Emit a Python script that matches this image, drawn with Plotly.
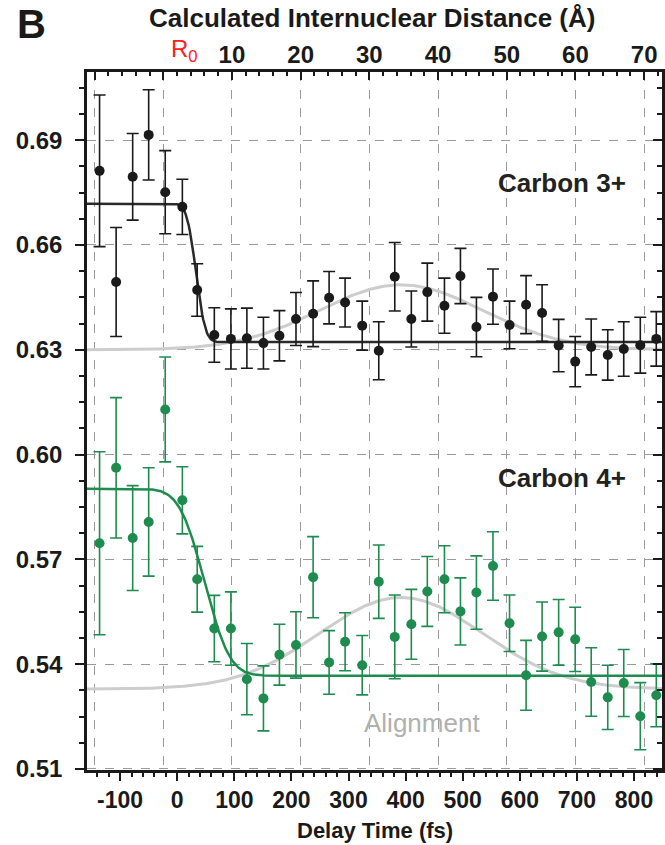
import math
import numpy as np
import plotly.graph_objects as go

# Pump-probe delay (fs)
delay_fs = [-136, -107, -78, -50, -21, 9, 35, 65, 94, 122, 151, 179, 208, 238,
            266, 294, 324, 353, 381, 410, 438, 468, 496, 524, 553, 582, 611, 639,
            668, 697, 725, 754, 782, 811, 839]

# Carbon 3+ yield and error
c3_value = [0.6812, 0.6494, 0.6795, 0.6915, 0.6751, 0.6709, 0.6471, 0.6342, 0.6331,
            0.6333, 0.6319, 0.6340, 0.6388, 0.6403, 0.6449, 0.6435, 0.6369, 0.6297,
            0.6509, 0.6388, 0.6465, 0.6426, 0.6511, 0.6365, 0.6452, 0.6371, 0.6429,
            0.6405, 0.6312, 0.6266, 0.6308, 0.6285, 0.6302, 0.6313, 0.6331]
c3_error = [0.0217, 0.0156, 0.0124, 0.0129, 0.0119, 0.0079, 0.0075, 0.0078, 0.0086,
            0.0086, 0.0074, 0.0072, 0.0076, 0.0094, 0.0075, 0.0070, 0.0070, 0.0083,
            0.0098, 0.0080, 0.0083, 0.0079, 0.0079, 0.0085, 0.0079, 0.0068, 0.0083,
            0.0081, 0.0075, 0.0072, 0.0080, 0.0072, 0.0078, 0.0080, 0.0078]

# Carbon 4+ yield and error
c4_value = [0.5746, 0.5962, 0.5761, 0.5807, 0.6129, 0.5869, 0.5643, 0.5502, 0.5502,
            0.5357, 0.5302, 0.5427, 0.5455, 0.5649, 0.5405, 0.5464, 0.5397, 0.5636,
            0.5478, 0.5514, 0.5608, 0.5643, 0.5551, 0.5605, 0.5681, 0.5517, 0.5368,
            0.5479, 0.5491, 0.5471, 0.5349, 0.5305, 0.5346, 0.5251, 0.5311]
c4_error = [0.0262, 0.0201, 0.0150, 0.0155, 0.0150, 0.0096, 0.0094, 0.0095, 0.0105,
            0.0102, 0.0093, 0.0087, 0.0095, 0.0116, 0.0091, 0.0083, 0.0085, 0.0105,
            0.0120, 0.0100, 0.0100, 0.0096, 0.0096, 0.0105, 0.0098, 0.0081, 0.0100,
            0.0099, 0.0094, 0.0092, 0.0098, 0.0092, 0.0096, 0.0096, 0.0090]

# Error-function step fits: (high, low, centre fs, width fs)
c3_fit = (0.6718, 0.6322, 33.0, 18.0)
c4_fit = (0.5902, 0.5367, 48.0, 49.0)
# Alignment revival (baseline, amplitude, centre fs, sigma fs)
c3_align = (0.6300, 0.0186, 392.0, 143.0)
c4_align = (0.5329, 0.0262, 392.0, 143.0)

# Axis ticks
delay_ticks = [-100, 0, 100, 200, 300, 400, 500, 600, 700, 800]
delay_ticktext = ["-100", "0", "100", "200", "300", "400", "500", "600", "700", "800"]
dist_grid = [-10, 0, 10, 20, 30, 40, 50, 60, 70]
dist_ticks = [10, 20, 30, 40, 50, 60, 70]
dist_ticktext = ["10", "20", "30", "40", "50", "60", "70"]
yield_ticks = [0.51, 0.54, 0.57, 0.60, 0.63, 0.66, 0.69]

X_RANGE = [-158, 849]
DIST_RANGE = [-11.1, 72.6]
Y_RANGE = [0.5097, 0.7095]

W, H = 665, 845
ML, MR, MT, MB = 87, 3, 72, 75
PW, PH = W - ML - MR, H - MT - MB

BLACK = "#1a1a1a"
GREEN = "#1d8c4e"
GREY_LINE = "#cdcdcd"
FONT = "Liberation Sans, Arial, sans-serif"

t = np.linspace(X_RANGE[0], X_RANGE[1], 600)
erf = np.vectorize(math.erf)


def step(p):
    hi, lo, t0, w = p
    return lo + (hi - lo) * 0.5 * (1 - erf((t - t0) / w))


def bump(p):
    base, amp, t0, s = p
    return base + amp * np.exp(-((t - t0) ** 2) / (2 * s ** 2))


fig = go.Figure()

for p in (c3_align, c4_align):
    fig.add_trace(go.Scatter(x=t, y=bump(p), mode="lines",
                             line=dict(color=GREY_LINE, width=3), hoverinfo="skip"))

fig.add_trace(go.Scatter(x=t, y=step(c3_fit), mode="lines",
                         line=dict(color="#2a2a2a", width=2.5)))
fig.add_trace(go.Scatter(x=t, y=step(c4_fit), mode="lines",
                         line=dict(color=GREEN, width=2.5)))

for vals, errs, col in ((c3_value, c3_error, BLACK), (c4_value, c4_error, GREEN)):
    fig.add_trace(go.Scatter(
        x=delay_fs, y=vals, mode="markers",
        marker=dict(color=col, size=10),
        error_y=dict(type="data", array=errs, visible=True, color=col,
                     thickness=1.6, width=6),
    ))

# invisible anchors so the distance axes and right-hand mirror axis are drawn
for ax in ("x2", "x3"):
    fig.add_trace(go.Scatter(x=[0], y=[0.6], xaxis=ax, mode="markers",
                             marker=dict(opacity=0), hoverinfo="skip"))
fig.add_trace(go.Scatter(x=[0], y=[0.6], yaxis="y2", mode="markers",
                         marker=dict(opacity=0), hoverinfo="skip"))

fig.update_layout(
    width=W, height=H,
    margin=dict(l=ML, r=MR, t=MT, b=MB),
    paper_bgcolor="white", plot_bgcolor="white",
    showlegend=False,
    font=dict(family=FONT, color=BLACK),
    xaxis=dict(
        range=X_RANGE, tickvals=delay_ticks, ticktext=delay_ticktext,
        ticks="outside", ticklen=8, tickwidth=2, tickcolor=BLACK,
        minor=dict(dtick=20, tick0=0, ticks="outside", ticklen=4, tickwidth=1.5,
                   tickcolor=BLACK, showgrid=False),
        showgrid=False, zeroline=False, showline=True, linecolor=BLACK, linewidth=2.5,
        tickfont=dict(family=FONT, size=23, color=BLACK, weight="bold"),
    ),
    xaxis2=dict(
        overlaying="x", side="top", range=DIST_RANGE,
        tickvals=dist_grid, showticklabels=False,
        ticks="inside", ticklen=8, tickwidth=2, tickcolor=BLACK,
        minor=dict(dtick=2, tick0=0, ticks="inside", ticklen=4, tickwidth=1.5,
                   tickcolor=BLACK, showgrid=False),
        showgrid=True, gridcolor="#9a9a9a", gridwidth=1, griddash="dash",
        zeroline=False, showline=True, linecolor=BLACK, linewidth=2.5,
    ),
    xaxis3=dict(
        overlaying="x", side="top", range=DIST_RANGE,
        tickvals=dist_ticks, ticktext=dist_ticktext, ticks="",
        showgrid=False, zeroline=False, showline=False,
        tickfont=dict(family=FONT, size=24, color=BLACK, weight="bold"),
        ticklabelstandoff=3,
    ),
    yaxis=dict(
        range=Y_RANGE, tickvals=yield_ticks, tickformat=".2f",
        ticks="outside", ticklen=9, tickwidth=2, tickcolor=BLACK,
        minor=dict(dtick=0.0075, tick0=0.51, ticks="outside", ticklen=5, tickwidth=1.5,
                   tickcolor=BLACK, showgrid=False),
        showgrid=True, gridcolor="#9a9a9a", gridwidth=1, griddash="dash",
        zeroline=False, showline=True, linecolor=BLACK, linewidth=2.5,
        tickfont=dict(family=FONT, size=24, color=BLACK, weight="bold"),
        ticklabelstandoff=8,
    ),
    yaxis2=dict(
        overlaying="y", side="right", range=Y_RANGE, tickvals=yield_ticks,
        showticklabels=False, ticks="inside", ticklen=9, tickwidth=2, tickcolor=BLACK,
        minor=dict(dtick=0.0075, tick0=0.51, ticks="inside", ticklen=5, tickwidth=1.5,
                   tickcolor=BLACK, showgrid=False),
        showgrid=False, zeroline=False, showline=True, linecolor=BLACK, linewidth=2.5,
    ),
)


def px(xp):
    return (xp - ML) / PW


def py(yp):
    return 1 - (yp - MT) / PH


def label(text, x, y, size, color=BLACK, bold=True):
    fig.add_annotation(
        text=text, x=px(x), y=py(y), xref="paper", yref="paper",
        xanchor="center", yanchor="middle", showarrow=False,
        font=dict(family=FONT, size=size, color=color,
                  weight="bold" if bold else "normal"),
    )


label("B", 31, 24, 40)
label("Calculated Internuclear Distance (Å)", 372, 18, 26)
label("R<sub>0</sub>", 184, 50, 24, color="#ff2020", bold=False)
label("Carbon 3+", 562, 183, 26, color="#222222")
label("Carbon 4+", 562, 478, 26, color="#222222")
label("Alignment", 422, 723, 26, color="#b0b0b0", bold=False)
label("Delay Time (fs)", 375, 830, 22)

fig.write_html("out.html")
